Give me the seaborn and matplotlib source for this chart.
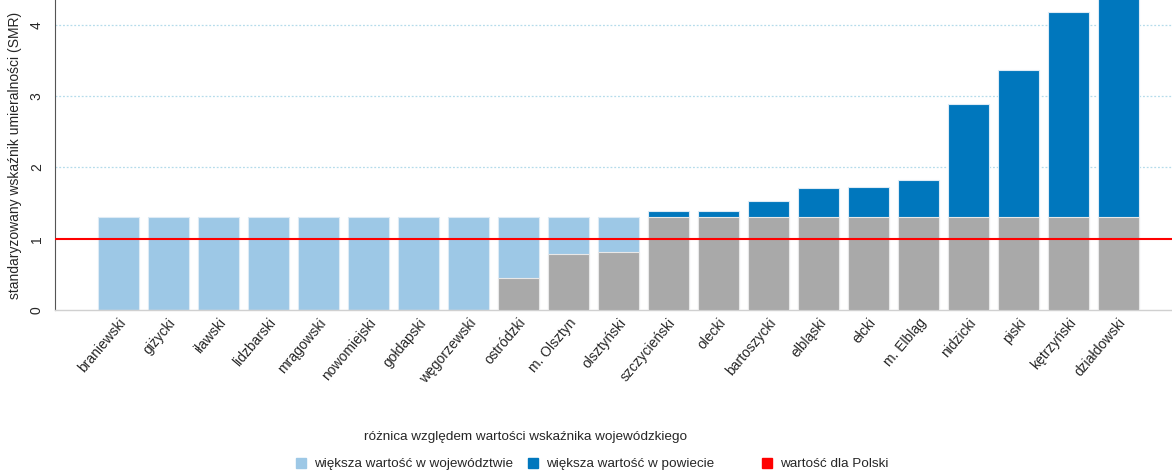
import numpy as np
import pandas as pd
import matplotlib.pyplot as plt
from matplotlib.lines import Line2D
import seaborn as sns

# dane: standaryzowany wskaznik umieralnosci (SMR) wg powiatow
powiaty = ['braniewski', 'giżycki', 'iławski', 'lidzbarski', 'mrągowski', 'nowomiejski',
           'gołdapski', 'węgorzewski', 'ostródzki', 'm. Olsztyn', 'olsztyński', 'szczycieński',
           'olecki', 'bartoszycki', 'elbląski', 'ełcki', 'm. Elbląg', 'nidzicki', 'piski',
           'kętrzyński', 'działdowski']
smr_powiat = [np.nan, np.nan, np.nan, np.nan, np.nan, np.nan, np.nan, np.nan,
              0.45, 0.79, 0.81, 1.39, 1.39, 1.53, 1.71, 1.72, 1.82, 2.89, 3.37, 4.18, 4.50]
smr_wojewodztwo = 1.30
smr_polska = 1.0

df = pd.DataFrame({'powiat': powiaty, 'smr': smr_powiat})
df['gora'] = df['smr'].fillna(smr_wojewodztwo).clip(lower=smr_wojewodztwo)
df['dol'] = df['smr'].fillna(0).clip(upper=smr_wojewodztwo)
df['roznica'] = np.where(df['smr'].fillna(0) > smr_wojewodztwo, 'powiat', 'woj')

kolory = {'woj': '#9DC8E6', 'powiat': '#0077BD'}
szary = '#A9A9A9'
czerwony = '#FF0000'

sns.set_theme(style='white')
plt.rcParams['font.family'] = ['Liberation Sans', 'DejaVu Sans']

fig = plt.figure(figsize=(11.72, 4.72), dpi=100)
ax = fig.add_axes([55 / 1172, 162 / 472, 1 - 55 / 1172, 310 / 472])

# gorna czesc slupka (do wartosci wojewodztwa lub powiatu)
sns.barplot(data=df, x='powiat', y='gora', hue='roznica', palette=kolory, dodge=False,
            saturation=1, width=0.82, edgecolor='#DDEBF5', linewidth=0.8, legend=False,
            ax=ax, zorder=2)
# dolna, szara czesc slupka
sns.barplot(data=df, x='powiat', y='dol', color=szary, saturation=1, width=0.82,
            edgecolor='#E8E8E8', linewidth=0.8, ax=ax, zorder=3)

ax.axhline(smr_polska, color=czerwony, lw=1.5, zorder=4)

ax.set_ylim(0, 4.35)
ax.set_xlim(-1.26, 21.08)
ax.set_yticks([0, 1, 2, 3, 4])
ax.set_yticklabels(['0', '1', '2', '3', '4'], rotation=90, va='center', fontsize=10)
for y in [2, 3, 4]:
    ax.axhline(y, color='#B5DCEB', lw=0.9, ls=(0, (1.5, 1.5)), zorder=1)
ax.tick_params(axis='y', direction='out', length=5, width=0.8, color='#555555', pad=3)
ax.tick_params(axis='x', length=0, pad=4)
ax.set_xticks(range(len(powiaty)))
ax.set_xticklabels(powiaty, rotation=50, ha='right', rotation_mode='anchor', fontsize=10)
ax.set_xlabel('')
ax.set_ylabel('standaryzowany wskaźnik umieralności (SMR)', fontsize=10, labelpad=6)

sns.despine(ax=ax, top=True, right=True)
ax.spines['left'].set_color('#555555')
ax.spines['left'].set_linewidth(0.8)
ax.spines['bottom'].set_color('#D0D0D0')
ax.spines['bottom'].set_linewidth(1)

# legenda
fig.text(526 / 1172, 1 - 437 / 472, 'różnica względem wartości wskaźnika wojewódzkiego',
         ha='center', va='center', fontsize=9.7)
etykiety = ['większa wartość w województwie', 'większa wartość w powiecie',
            'wartość dla Polski']
kolory_leg = [kolory['woj'], kolory['powiat'], czerwony]
pozycje = [294, 526, 760]
for etykieta, kolor, px in zip(etykiety, kolory_leg, pozycje):
    uchwyt = Line2D([], [], marker='s', ls='', color=kolor, markersize=7)
    fig.legend([uchwyt], [etykieta], loc='center left', bbox_to_anchor=(px / 1172, 1 - 464 / 472),
               frameon=False, fontsize=9.7, handletextpad=0.5, borderaxespad=0,
               borderpad=0, handlelength=1)

fig.savefig('out.png', dpi=100)
